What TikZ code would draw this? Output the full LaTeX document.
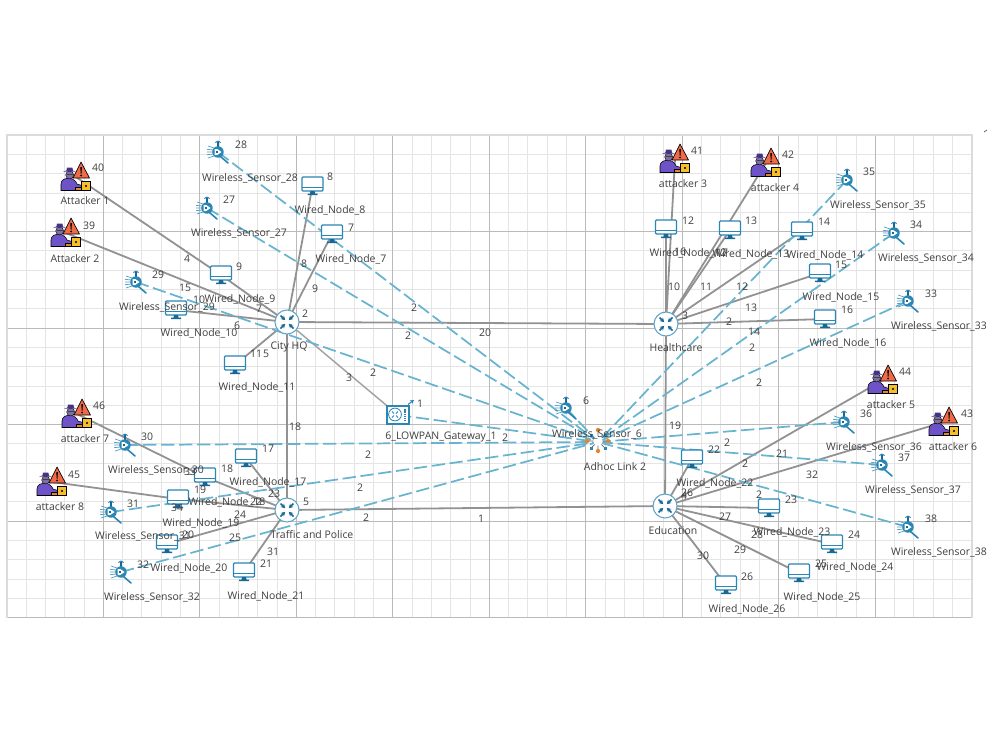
\documentclass[tikz,border=0pt]{standalone}
\usepackage{fontspec}
\setmainfont{Open Sans}
\usetikzlibrary{arrows.meta}
\definecolor{wirecol}{RGB}{146,146,146}
\definecolor{linkcol}{RGB}{104,180,208}
\definecolor{iconblue}{RGB}{42,134,180}
\definecolor{icondark}{RGB}{24,104,150}
\definecolor{txtcol}{RGB}{62,62,62}
\definecolor{hackpurple}{RGB}{110,82,200}
\definecolor{hackhat}{RGB}{70,50,130}
\definecolor{warnorange}{RGB}{240,106,72}
\definecolor{boxyellow}{RGB}{245,190,45}
\definecolor{dotorange}{RGB}{226,134,40}
\tikzset{
  wired/.style={wirecol,line width=1.35pt},
  thinwire/.style={wirecol!85,line width=1.1pt},
  radio/.style={linkcol,line width=1.3pt,dash pattern=on 10pt off 3.5pt},
  gridminor/.style={black!10,line width=0.5pt},
  gridmajor/.style={black!27,line width=0.7pt},
  devlbl/.style={text=txtcol,font=\fontsize{7.85}{10}\selectfont,inner sep=0pt},
  idlbl/.style={text=txtcol,font=\fontsize{7.85}{10}\selectfont,inner sep=0pt},
  monitor/.pic={
    \draw[iconblue,line width=0.9pt,fill=white,rounded corners=0.8pt] (-10.5,-9) rectangle (10.5,5);
    \draw[iconblue,line width=0.7pt] (-10.5,1.5) -- (10.5,1.5);
    \fill[icondark] (-2,5) -- (2,5) -- (2.5,7.5) -- (5,7.5) -- (5,9) -- (-5,9) -- (-5,7.5) -- (-2.5,7.5) -- cycle;
  },
  router/.pic={
    \draw[iconblue!75,line width=0.8pt,fill=white] (0,0) circle[radius=9pt];
    \draw[icondark,line width=1.2pt,-{Stealth[length=3.2pt,width=3.6pt]}] (-6.5,-6.5) -- (-1.8,-1.8);
    \draw[icondark,line width=1.2pt,-{Stealth[length=3.2pt,width=3.6pt]}] (6.5,-6.5) -- (1.8,-1.8);
    \draw[icondark,line width=1.2pt,-{Stealth[length=3.2pt,width=3.6pt]}] (-6.5,6.5) -- (-1.8,1.8);
    \draw[icondark,line width=1.2pt,-{Stealth[length=3.2pt,width=3.6pt]}] (6.5,6.5) -- (1.8,1.8);
  },
  sensor/.pic={
    \draw[iconblue!80,line width=0.55pt] (-4,-4) -- (-10,-6) (-5,-2) -- (-11,-2.7) (-5,0) -- (-11,0) (-5,2) -- (-11,2.7) (-4,4) -- (-10,6);
    \draw[icondark,line width=1pt] (0,-5) -- (0,-9);
    \draw[iconblue,line width=0.6pt] (-2.8,-9.5) .. controls (-1.5,-11.5) and (1.5,-11.5) .. (2.8,-9.5);
    \fill[icondark] (0,-9.5) circle[radius=1.1pt];
    \draw[iconblue,line width=1.2pt,line cap=round] (2.5,4.5) -- (10,11);
    \fill[iconblue] (0,0) circle[radius=4.3pt];
    \fill[white] (-3.4,-3) -- (-0.8,-3) -- (3.6,0) -- (-0.8,3) -- (-3.4,3) -- cycle;
    \fill[icondark] (-1.6,-1.4) rectangle (0.2,1.4);
  },
  attacker/.pic={
    \draw[black,line width=0.5pt,fill=warnorange,line join=round] (5,-15) -- (13.5,1) -- (-3,1) -- cycle;
    \fill[black] (4.3,-10) -- (5.9,-10) -- (5.5,-3.4) -- (4.7,-3.4) -- cycle;
    \fill[black] (5.1,-1.5) circle[radius=0.8pt];
    \draw[black,line width=0.4pt,fill=hackpurple] (-15,13.5) -- (-15,7) .. controls (-15,2.5) and (-11,1.3) .. (-7,1.3) .. controls (-3,1.3) and (0,4) .. (1,7) -- (6,8.5) -- (6,11) -- (2,11) -- (2,13.5) -- cycle;
    \draw[black,line width=0.3pt,fill=hackhat!70] (-6.3,-2) circle[radius=3pt];
    \fill[hackhat] (-13,-5.4) -- (0,-5.4) -- (-3,-6.4) -- (-3.6,-9.5) -- (-9,-9.5) -- (-9.6,-6.4) -- cycle;
    \fill[black!75] (-9.4,-3.2) rectangle (-3.2,-1.8);
    \draw[black,line width=0.4pt,fill=dotorange] (-1,10.5) rectangle (6,13.5);
    \draw[black,line width=0.5pt,fill=boxyellow] (5.5,4.5) rectangle (14.5,13.5);
    \fill[black] (10,9) circle[radius=0.9pt];
  },
  gateway/.pic={
    \draw[iconblue,line width=0.9pt,fill=white] (-11,-9) rectangle (11,9);
    \draw[iconblue,line width=0.6pt] (-3,-0.5) circle[radius=4.8pt];
    \draw[iconblue,line width=0.7pt] (-6,-3.5) -- (-4,-1.5) (0,-3.5) -- (-2,-1.5) (-6,2.5) -- (-4,0.5) (0,2.5) -- (-2,0.5);
    \draw[iconblue,line width=1.6pt,dash pattern=on 0.9pt off 0.5pt] (7,-6.5) -- (7,6.5);
    \draw[iconblue,line width=0.8pt,-{Stealth[length=3pt,width=3.4pt]}] (10,-10.5) -- (16,-15);
  },
  adhoc/.pic={
    \draw[black!60,line width=0.5pt] (0,-12) -- (0,9) (-11,-1) -- (10,-1) (-7,-7) -- (7,6) (7,-7) -- (-7,6);
    \fill[iconblue] (-8.5,-8.5) rectangle (-5.5,-5.5);
    \fill[iconblue] (5.5,-8.5) rectangle (8.5,-5.5);
    \fill[iconblue] (-8.5,4.5) rectangle (-5.5,7.5);
    \fill[iconblue] (5.5,4.5) rectangle (8.5,7.5);
    \fill[dotorange] (0,-12) circle[radius=1.6pt];
    \fill[dotorange] (-11,-1) circle[radius=1.6pt];
    \fill[dotorange] (10,-1) circle[radius=1.6pt];
    \fill[dotorange] (0,9) circle[radius=1.6pt];
    \fill[white] (0,-1) circle[radius=3.6pt];
  },
}
\begin{document}
\begin{tikzpicture}[x=0.75pt,y=-0.75pt]
  \useasboundingbox (0,0) rectangle (1000,750);
  % grid
  \foreach \n in {0,...,50} \draw[gridminor] ({6.7+19.3*\n},135) -- ({6.7+19.3*\n},617.5);
  \foreach \n in {0,...,25} \draw[gridminor] (6.7,{135+19.3*\n}) -- (971.7,{135+19.3*\n});
  \foreach \n in {1,...,9} \draw[gridmajor] ({6.7+96.5*\n},135) -- ({6.7+96.5*\n},617.5);
  \foreach \n in {1,...,5} \draw[gridmajor] (6.7,{135+96.5*\n}) -- (971.7,{135+96.5*\n});
  \draw[black!14,line width=1.2pt] (6.7,617.5) -- (6.7,135) -- (971.7,135) -- (971.7,617.5);
  \draw[black!60,line width=0.6pt] (984,132) -- (987,130);
  % device positions
  \coordinate (hq) at (287,322);
  \coordinate (tp) at (287,510);
  \coordinate (hc) at (666,324);
  \coordinate (ed) at (665,506);
  \coordinate (gw) at (398,415);
  \coordinate (ah) at (598,442);
  \coordinate (a1) at (76,177);
  \coordinate (a2) at (66,233);
  \coordinate (a3) at (675,159);
  \coordinate (a4) at (766,163);
  \coordinate (a5) at (883,380);
  \coordinate (a6) at (944,422);
  \coordinate (a7) at (77,414);
  \coordinate (a8) at (52,482);
  \coordinate (w7) at (332,234);
  \coordinate (w8) at (312.5,186);
  \coordinate (w9) at (221,275);
  \coordinate (w10) at (176,310);
  \coordinate (w11) at (235,365);
  \coordinate (w12) at (666,229);
  \coordinate (w13) at (730,230);
  \coordinate (w14) at (802,231);
  \coordinate (w15) at (820,273);
  \coordinate (w16) at (825,319);
  \coordinate (w17) at (246,458);
  \coordinate (w18) at (205,477);
  \coordinate (w19) at (178,499);
  \coordinate (w20) at (167,544);
  \coordinate (w21) at (244,572);
  \coordinate (w22) at (692,459);
  \coordinate (w23) at (769,508);
  \coordinate (w24) at (832,544);
  \coordinate (w25) at (799,573);
  \coordinate (w26) at (726,585);
  \coordinate (s6) at (566,408);
  \coordinate (s27) at (207,208);
  \coordinate (s28) at (218,152);
  \coordinate (s29) at (136,282);
  \coordinate (s30) at (125,445);
  \coordinate (s31) at (111,512);
  \coordinate (s32) at (121,572);
  \coordinate (s33) at (908,301);
  \coordinate (s34) at (894,233);
  \coordinate (s35) at (847,180);
  \coordinate (s36) at (844,422);
  \coordinate (s37) at (882,465);
  \coordinate (s38) at (908,527);
  % wired links
  \draw[wired] (hq) -- (hc);
  \draw[wired] (tp) -- (ed);
  \draw[wired] (hq) -- (tp);
  \draw[wired] (hc) -- (ed);
  \draw[thinwire] (hq) -- (gw);
  \draw[wired] (a1) -- (w9);
  \draw[wired] (w9) -- (hq);
  \draw[wired] (a2) -- (hq);
  \draw[wired] (w10) -- (hq);
  \draw[wired] (w11) -- (hq);
  \draw[wired] (w8) -- (hq);
  \draw[wired] (w7) -- (hq);
  \draw[wired] (a3) -- (hc);
  \draw[wired] (w12) -- (hc);
  \draw[wired] (a4) -- (hc);
  \draw[wired] (w13) -- (hc);
  \draw[wired] (w14) -- (hc);
  \draw[wired] (w15) -- (hc);
  \draw[wired] (w16) -- (hc);
  \draw[wired] (a7) -- (w18);
  \draw[wired] (w18) -- (tp);
  \draw[wired] (a8) -- (w19);
  \draw[wired] (w19) -- (tp);
  \draw[wired] (w17) -- (tp);
  \draw[wired] (w20) -- (tp);
  \draw[wired] (w21) -- (tp);
  \draw[wired] (w22) -- (ed);
  \draw[wired] (a5) -- (ed);
  \draw[wired] (a6) -- (ed);
  \draw[wired] (w23) -- (ed);
  \draw[wired] (w24) -- (ed);
  \draw[wired] (w25) -- (ed);
  \draw[wired] (w26) -- (ed);
  % wireless links
  \draw[radio] (s6) -- (ah);
  \draw[radio] (gw) -- (ah);
  \draw[radio] (s27) -- (ah);
  \draw[radio] (s28) -- (ah);
  \draw[radio] (s29) -- (ah);
  \draw[radio] (s30) -- (ah);
  \draw[radio] (s31) -- (ah);
  \draw[radio] (s32) -- (ah);
  \draw[radio] (s33) -- (ah);
  \draw[radio] (s34) -- (ah);
  \draw[radio] (s35) -- (ah);
  \draw[radio] (s36) -- (ah);
  \draw[radio] (s37) -- (ah);
  \draw[radio] (s38) -- (ah);
  % icons
  \pic at (hq) {router};
  \pic at (tp) {router};
  \pic at (hc) {router};
  \pic at (ed) {router};
  \pic at (gw) {gateway};
  \pic at (ah) {adhoc};
  \pic at (a1) {attacker};
  \pic at (a2) {attacker};
  \pic at (a3) {attacker};
  \pic at (a4) {attacker};
  \pic at (a5) {attacker};
  \pic at (a6) {attacker};
  \pic at (a7) {attacker};
  \pic at (a8) {attacker};
  \pic at (w7) {monitor};
  \pic at (w8) {monitor};
  \pic at (w9) {monitor};
  \pic at (w10) {monitor};
  \pic at (w11) {monitor};
  \pic at (w12) {monitor};
  \pic at (w13) {monitor};
  \pic at (w14) {monitor};
  \pic at (w15) {monitor};
  \pic at (w16) {monitor};
  \pic at (w17) {monitor};
  \pic at (w18) {monitor};
  \pic at (w19) {monitor};
  \pic at (w20) {monitor};
  \pic at (w21) {monitor};
  \pic at (w22) {monitor};
  \pic at (w23) {monitor};
  \pic at (w24) {monitor};
  \pic at (w25) {monitor};
  \pic at (w26) {monitor};
  \pic at (s6) {sensor};
  \pic at (s27) {sensor};
  \pic at (s28) {sensor};
  \pic at (s29) {sensor};
  \pic at (s30) {sensor};
  \pic at (s31) {sensor};
  \pic at (s32) {sensor};
  \pic at (s33) {sensor};
  \pic at (s34) {sensor};
  \pic at (s35) {sensor};
  \pic at (s36) {sensor};
  \pic at (s37) {sensor};
  \pic at (s38) {sensor};
  % device names
  \node[devlbl] (hqname) at (289,347) {City HQ};
  \node[devlbl] (tpname) at (312,535) {Traffic and Police};
  \node[devlbl] (hcname) at (676,348) {Healthcare};
  \node[devlbl] (edname) at (673,531) {Education};
  \node[devlbl] (gwname) at (441,437) {6\_LOWPAN\_Gateway\_1};
  \node[devlbl] (ahname) at (615,467) {Adhoc Link 2};
  \node[devlbl] (a1name) at (85,201) {Attacker 1};
  \node[devlbl] (a2name) at (75,259) {Attacker 2};
  \node[devlbl] (a3name) at (683,184) {attacker 3};
  \node[devlbl] (a4name) at (775,188) {attacker 4};
  \node[devlbl] (a5name) at (891,405) {attacker 5};
  \node[devlbl] (a6name) at (953,447) {attacker 6};
  \node[devlbl] (a7name) at (85,439) {attacker 7};
  \node[devlbl] (a8name) at (60,507) {attacker 8};
  \node[devlbl] (w7name) at (351,259) {Wired\_Node\_7};
  \node[devlbl] (w8name) at (330,210) {Wired\_Node\_8};
  \node[devlbl] (w9name) at (240,299) {Wired\_Node\_9};
  \node[devlbl] (w10name) at (199,333) {Wired\_Node\_10};
  \node[devlbl] (w11name) at (257,387) {Wired\_Node\_11};
  \node[devlbl] (w12name) at (688,253) {Wired\_Node\_12};
  \node[devlbl] (w13name) at (751,254) {Wired\_Node\_13};
  \node[devlbl] (w14name) at (825,255) {Wired\_Node\_14};
  \node[devlbl] (w15name) at (841,297) {Wired\_Node\_15};
  \node[devlbl] (w16name) at (848,343) {Wired\_Node\_16};
  \node[devlbl] (w17name) at (268,482) {Wired\_Node\_17};
  \node[devlbl] (w18name) at (227,502) {Wired\_Node\_18};
  \node[devlbl] (w19name) at (201,523) {Wired\_Node\_19};
  \node[devlbl] (w20name) at (189,568) {Wired\_Node\_20};
  \node[devlbl] (w21name) at (266,596) {Wired\_Node\_21};
  \node[devlbl] (w22name) at (715,483) {Wired\_Node\_22};
  \node[devlbl] (w23name) at (792,532) {Wired\_Node\_23};
  \node[devlbl] (w24name) at (855,567) {Wired\_Node\_24};
  \node[devlbl] (w25name) at (822,597) {Wired\_Node\_25};
  \node[devlbl] (w26name) at (747,609) {Wired\_Node\_26};
  \node[devlbl] (s6name) at (597,434) {Wireless\_Sensor\_6};
  \node[devlbl] (s27name) at (239,233) {Wireless\_Sensor\_27};
  \node[devlbl] (s28name) at (250,178) {Wireless\_Sensor\_28};
  \node[devlbl] (s29name) at (167,307) {Wireless\_Sensor\_29};
  \node[devlbl] (s30name) at (156,470) {Wireless\_Sensor\_30};
  \node[devlbl] (s31name) at (143,536) {Wireless\_Sensor\_31};
  \node[devlbl] (s32name) at (152,597) {Wireless\_Sensor\_32};
  \node[devlbl] (s33name) at (939,326) {Wireless\_Sensor\_33};
  \node[devlbl] (s34name) at (926,258) {Wireless\_Sensor\_34};
  \node[devlbl] (s35name) at (878,205) {Wireless\_Sensor\_35};
  \node[devlbl] (s36name) at (874,447) {Wireless\_Sensor\_36};
  \node[devlbl] (s37name) at (913,490) {Wireless\_Sensor\_37};
  \node[devlbl] (s38name) at (939,552) {Wireless\_Sensor\_38};
  % device ids
  \node[idlbl] (id1) at (420,404) {1};
  \node[idlbl] (id2) at (305,314) {2};
  \node[idlbl] (id3) at (685,316) {3};
  \node[idlbl] (id4) at (684,496) {4};
  \node[idlbl] (id5) at (306,502) {5};
  \node[idlbl] (id6) at (586,401) {6};
  \node[idlbl] (id7) at (351,228) {7};
  \node[idlbl] (id8) at (330,177) {8};
  \node[idlbl] (id9) at (239,267) {9};
  \node[idlbl] (id10) at (199,300) {10};
  \node[idlbl] (id11) at (256,354) {11};
  \node[idlbl] (id12) at (688,221) {12};
  \node[idlbl] (id13) at (751,221) {13};
  \node[idlbl] (id14) at (824,222) {14};
  \node[idlbl] (id15) at (841,265) {15};
  \node[idlbl] (id16) at (847,310) {16};
  \node[idlbl] (id17) at (268,449) {17};
  \node[idlbl] (id18) at (227,469) {18};
  \node[idlbl] (id19) at (200,490) {19};
  \node[idlbl] (id20) at (188,535) {20};
  \node[idlbl] (id21) at (266,564) {21};
  \node[idlbl] (id22) at (714,450) {22};
  \node[idlbl] (id23) at (791,500) {23};
  \node[idlbl] (id24) at (854,535) {24};
  \node[idlbl] (id25) at (821,564) {25};
  \node[idlbl] (id26) at (747,577) {26};
  \node[idlbl] (id27) at (229,200) {27};
  \node[idlbl] (id28) at (241,145) {28};
  \node[idlbl] (id29) at (158,275) {29};
  \node[idlbl] (id30) at (147,437) {30};
  \node[idlbl] (id31) at (133,504) {31};
  \node[idlbl] (id32) at (143,565) {32};
  \node[idlbl] (id33) at (931,294) {33};
  \node[idlbl] (id34) at (916,225) {34};
  \node[idlbl] (id35) at (869,172) {35};
  \node[idlbl] (id36) at (866,414) {36};
  \node[idlbl] (id37) at (904,458) {37};
  \node[idlbl] (id38) at (931,519) {38};
  \node[idlbl] (id39) at (89,226) {39};
  \node[idlbl] (id40) at (98,168) {40};
  \node[idlbl] (id41) at (697,151) {41};
  \node[idlbl] (id42) at (788,155) {42};
  \node[idlbl] (id43) at (967,414) {43};
  \node[idlbl] (id44) at (905,372) {44};
  \node[idlbl] (id45) at (74,475) {45};
  \node[idlbl] (id46) at (99,406) {46};
  % link numbers
  \node[idlbl] (ln1) at (481,519) {1};
  \node[idlbl] (ln3) at (349,378) {3};
  \node[idlbl] (ln4) at (187,259) {4};
  \node[idlbl] (ln5) at (266,354) {5};
  \node[idlbl] (ln6) at (237,326) {6};
  \node[idlbl] (ln7) at (259,309) {7};
  \node[idlbl] (ln8) at (304,264) {8};
  \node[idlbl] (ln9) at (315,289) {9};
  \node[idlbl] (ln10) at (674,287) {10};
  \node[idlbl] (ln11) at (706,287) {11};
  \node[idlbl] (ln12) at (742,287) {12};
  \node[idlbl] (ln13) at (751,308) {13};
  \node[idlbl] (ln14) at (754,332) {14};
  \node[idlbl] (ln15) at (185,288) {15};
  \node[idlbl] (ln16) at (680,252) {16};
  \node[idlbl] (ln17) at (722,253) {17};
  \node[idlbl] (ln18) at (295,427) {18};
  \node[idlbl] (ln19) at (675,426) {19};
  \node[idlbl] (ln20) at (485,333) {20};
  \node[idlbl] (ln21) at (782,454) {21};
  \node[idlbl] (ln22) at (256,502) {22};
  \node[idlbl] (ln23) at (274,494) {23};
  \node[idlbl] (ln24) at (240,515) {24};
  \node[idlbl] (ln25) at (235,538) {25};
  \node[idlbl] (ln26) at (687,493) {26};
  \node[idlbl] (ln27) at (725,517) {27};
  \node[idlbl] (ln28) at (757,535) {28};
  \node[idlbl] (ln29) at (740,550) {29};
  \node[idlbl] (ln30) at (703,556) {30};
  \node[idlbl] (ln31) at (273,552) {31};
  \node[idlbl] (ln32) at (812,475) {32};
  \node[idlbl] (ln33) at (190,472) {33};
  \node[idlbl] (ln34) at (177,508) {34};
  \node[idlbl] (lna) at (414,308) {2};
  \node[idlbl] (lnb) at (408,336) {2};
  \node[idlbl] (lnc) at (373,373) {2};
  \node[idlbl] (lnd) at (368,455) {2};
  \node[idlbl] (lne) at (360,488) {2};
  \node[idlbl] (lnf) at (366,518) {2};
  \node[idlbl] (lng) at (505,438) {2};
  \node[idlbl] (lnh) at (729,322) {2};
  \node[idlbl] (lni) at (752,348) {2};
  \node[idlbl] (lnj) at (759,383) {2};
  \node[idlbl] (lnk) at (727,443) {2};
  \node[idlbl] (lnl) at (745,464) {2};
  \node[idlbl] (lnm) at (759,495) {2};
\end{tikzpicture}
\end{document}
